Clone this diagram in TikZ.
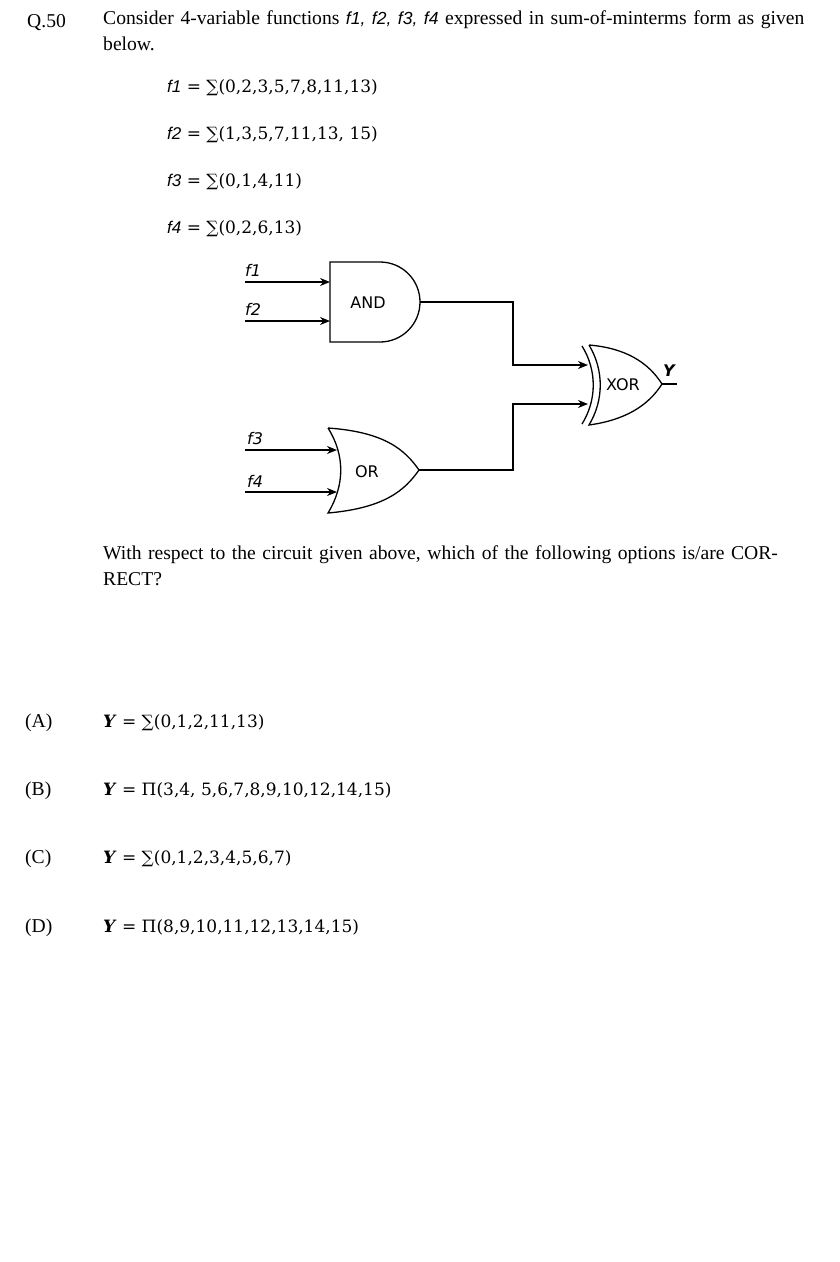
\documentclass[tikz,border=0pt]{standalone}
\usepackage{fontspec}
\setmainfont{Liberation Serif}
\newfontfamily\gsans{DejaVu Sans}
\newfontfamily\isans{Liberation Sans}
\newfontfamily\mserif{DejaVu Serif}
\usetikzlibrary{arrows.meta}
\newcommand{\fv}[1]{{\isans\itshape #1}}
\begin{document}
\begin{tikzpicture}[x=1pt,y=-1pt,
  txt/.style={anchor=base west,inner sep=0pt,font=\fontsize{19.6}{26}\selectfont},
  mth/.style={anchor=base west,inner sep=0pt,font=\mserif\fontsize{17}{22}\selectfont},
  gate/.style={line width=1.3pt},
  wire/.style={line width=1.3pt},
  arr/.style={wire,-{Stealth[length=10pt,width=8pt]}},
  glab/.style={font=\gsans\fontsize{16}{18}\selectfont,inner sep=0pt},
  ilab/.style={font=\gsans\itshape\fontsize{16}{18}\selectfont,inner sep=0pt,anchor=base west}]
\useasboundingbox (0,0) rectangle (840,1262);
\node[txt] (q) at (27,27) {Q.50};
\node[txt,anchor=north west,text width=717pt] (intro) at (103,10) {Consider 4-variable functions {\isans\itshape\fontsize{17.5}{20}\selectfont f1, f2, f3, f4} expressed in sum-of-minterms form as given below.};
\node[mth] (e1) at (167,92) {\fv{f1} = ∑(0,2,3,5,7,8,11,13)};
\node[mth] (e2) at (167,139) {\fv{f2} = ∑(1,3,5,7,11,13, 15)};
\node[mth] (e3) at (167,186) {\fv{f3} = ∑(0,1,4,11)};
\node[mth] (e4) at (167,233) {\fv{f4} = ∑(0,2,6,13)};
% AND gate
\draw[gate] (380,262) -- (330,262) -- (330,342) -- (380,342) arc (90:-90:40);
\node[glab] (and) at (368,303) {AND};
\coordinate (andout) at (420,302);
% OR gate
\draw[gate] (328,428) .. controls (385,432) and (405,450) .. (419,470)
  .. controls (405,490) and (385,508) .. (328,513)
  .. controls (345,485) and (345,455) .. (328,428);
\node[glab] (or) at (367,472) {OR};
\coordinate (orout) at (419,470);
% XOR gate
\draw[gate] (589,345) .. controls (625,348) and (648,362) .. (662,384)
  .. controls (648,406) and (625,420) .. (589,425)
  .. controls (604,400) and (604,370) .. (589,345);
\draw[gate] (582,346) .. controls (597,370) and (597,400) .. (582,424);
\node[glab] (xor) at (623,385) {XOR};
\coordinate (xorout) at (662,384);
\coordinate (yend) at (677,384);
\draw[wire] (xorout) -- (yend);
\node[font=\gsans\bfseries\itshape\fontsize{16}{18}\selectfont,inner sep=0pt,anchor=base] (Y) at (669,376) {Y};
% inputs
\coordinate (i1) at (245,282); \coordinate (i2) at (245,321);
\coordinate (i3) at (245,450); \coordinate (i4) at (245,492);
\draw[arr] (i1) -- (330,282);
\draw[arr] (i2) -- (330,321);
\draw[arr] (i3) -- (337,450);
\draw[arr] (i4) -- (337,492);
\node[ilab] (l1) at (245,276) {f1};
\node[ilab] (l2) at (245,315) {f2};
\node[ilab] (l3) at (247,444) {f3};
\node[ilab] (l4) at (247,487) {f4};
% connections
\draw[arr] (andout) -- (513,302) -- (513,365) -- (588,365);
\draw[arr] (orout) -- (513,470) -- (513,404) -- (588,404);
% question
\node[txt,anchor=north west,text width=717pt] (wr) at (103,545) {With respect to the circuit given above, which of the following options is/are CORRECT?};
\node[txt] (oa) at (25,727) {(A)};
\node[mth] (ta) at (103,727) {\textbf{\textit{Y}} = ∑(0,1,2,11,13)};
\node[txt] (ob) at (25,795) {(B)};
\node[mth] (tb) at (103,795) {\textbf{\textit{Y}} = Π(3,4, 5,6,7,8,9,10,12,14,15)};
\node[txt] (oc) at (25,863) {(C)};
\node[mth] (tc) at (103,863) {\textbf{\textit{Y}} = ∑(0,1,2,3,4,5,6,7)};
\node[txt] (od) at (25,932) {(D)};
\node[mth] (td) at (103,932) {\textbf{\textit{Y}} = Π(8,9,10,11,12,13,14,15)};
\end{tikzpicture}
\end{document}
